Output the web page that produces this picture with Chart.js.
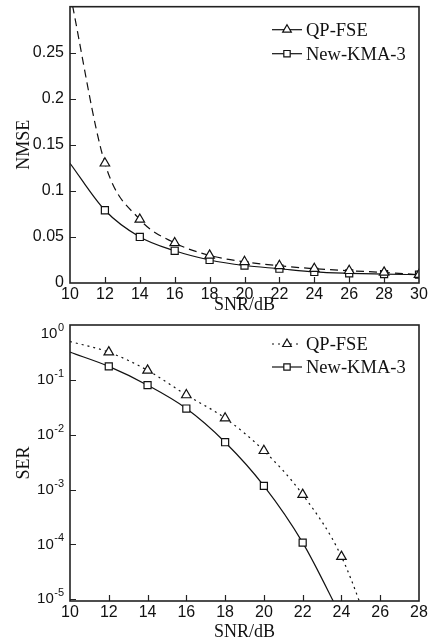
<!DOCTYPE html>
<html>
<head>
<meta charset="utf-8">
<script src="https://cdn.jsdelivr.net/npm/chart.js@4.4.0/dist/chart.umd.min.js"></script>
<style>
  html, body { margin: 0; padding: 0; background: #fff; }
  #wrap { position: relative; width: 434px; height: 641px; }
  #nmseChart { position: absolute; left: 0; top: 0; }
  #serChart { position: absolute; left: 0; top: 318px; }
</style>
</head>
<body>
<div id="wrap">
  <canvas id="nmseChart" width="434" height="318"></canvas>
  <canvas id="serChart" width="434" height="323"></canvas>
</div>
<script>
// NMSE vs SNR
const snrNmse = [10, 12, 14, 16, 18, 20, 22, 24, 26, 28, 30];
const nmseQpFse = [0.315, 0.130, 0.069, 0.0435, 0.030, 0.023, 0.0187, 0.0155, 0.0133, 0.0115, 0.009];
const nmseKma3 = [0.130, 0.079, 0.050, 0.035, 0.025, 0.019, 0.0155, 0.012, 0.0105, 0.0097, 0.009];

// SER vs SNR (last points fall below the axis and get clipped)
const snrSer = [10, 12, 14, 16, 18, 20, 22, 24, 26];
const serQpFse = [0.50, 0.32, 0.149, 0.053, 0.020, 0.0051, 0.00081, 6.0e-5, 8e-7];
const serKma3 = [0.32, 0.176, 0.080, 0.030, 0.0073, 0.00117, 1.08e-4, 4.7e-6, null];

const serDecades = [0, -1, -2, -3, -4, -5];
const seriesNames = ['QP-FSE', 'New-KMA-3'];

const serif = "'Liberation Serif', 'Times New Roman', serif";
const sans = "'Liberation Sans', Arial, sans-serif";
const ink = '#111';

Chart.defaults.font.family = sans;
Chart.defaults.color = ink;

function toPoints(xs, ys) {
  return xs.map((x, i) => ({ x: x, y: ys[i] }));
}

// no marker on the first point (and on points that run off the plot)
function radii(ys, r, hideFrom) {
  return ys.map((v, i) => (i === 0 || (hideFrom != null && i >= hideFrom)) ? 0 : r);
}

function makeDataset(label, xs, ys, style, dash, hideFrom) {
  const r = style === 'triangle' ? 5.5 : 5;
  return {
    label: label,
    data: toPoints(xs, ys),
    borderColor: ink,
    borderWidth: 1.2,
    borderDash: dash,
    pointStyle: style,
    pointRadius: radii(ys, r, hideFrom),
    pointBackgroundColor: '#fff',
    pointBorderColor: ink,
    pointBorderWidth: 1.2,
    cubicInterpolationMode: 'monotone',
    fill: false
  };
}

// Box round the plot area and short ticks pointing into it
const frameTicks = {
  id: 'frameTicks',
  afterDatasetsDraw(chart) {
    const { ctx, chartArea: a, scales } = chart;
    const xs = scales.x, ys = scales.y;
    ctx.save();
    ctx.strokeStyle = '#222';
    ctx.lineWidth = 1.2;
    ctx.beginPath();
    xs.ticks.forEach(t => {
      const px = Math.round(xs.getPixelForValue(t.value)) + 0.5;
      if (px <= a.left + 1 || px >= a.right - 1) return;
      ctx.moveTo(px, a.bottom);
      ctx.lineTo(px, a.bottom - 6);
    });
    ys.ticks.forEach(t => {
      const py = Math.round(ys.getPixelForValue(t.value)) + 0.5;
      if (py <= a.top + 1 || py >= a.bottom - 1) return;
      ctx.moveTo(a.left, py);
      ctx.lineTo(a.left + 6, py);
    });
    ctx.stroke();
    ctx.lineWidth = 1.6;
    ctx.strokeRect(a.left, a.top, a.right - a.left, a.bottom - a.top);
    ctx.restore();
  }
};

// Legend with a short line sample and the marker on it
const lineLegend = {
  id: 'lineLegend',
  afterDraw(chart, args, opts) {
    const { ctx, chartArea: a } = chart;
    ctx.save();
    chart.data.datasets.forEach((ds, i) => {
      const y = a.top + opts.top + i * opts.rowGap;
      const x0 = a.right - 147, x1 = a.right - 117;
      ctx.strokeStyle = ink;
      ctx.lineWidth = 1.2;
      ctx.setLineDash(opts.sampleDash[i]);
      ctx.beginPath();
      ctx.moveTo(x0, y);
      ctx.lineTo(x1, y);
      ctx.stroke();
      ctx.setLineDash([]);
      ctx.fillStyle = '#fff';
      ctx.strokeStyle = ink;
      Chart.helpers.drawPoint(ctx, {
        pointStyle: ds.pointStyle,
        radius: ds.pointStyle === 'triangle' ? 5 : 4.5,
        borderWidth: 1.2,
        rotation: 0
      }, (x0 + x1) / 2, y);
      ctx.fillStyle = ink;
      ctx.font = '18.5px ' + serif;
      ctx.textAlign = 'left';
      ctx.textBaseline = 'middle';
      ctx.fillText(ds.label, x1 + 4, y + 1);
    });
    ctx.restore();
  }
};

// Powers of ten for the log axis, exponent raised and smaller
const decadeLabels = {
  id: 'decadeLabels',
  afterDraw(chart) {
    const { ctx, chartArea: a, scales } = chart;
    const ys = scales.y;
    ctx.save();
    ctx.fillStyle = ink;
    ctx.textBaseline = 'middle';
    ctx.textAlign = 'left';
    serDecades.forEach(p => {
      let y = ys.getPixelForValue(Math.pow(10, p));
      y = Math.max(y, a.top + 9);
      const exp = String(p);
      ctx.font = '11px ' + sans;
      const ew = ctx.measureText(exp).width;
      ctx.font = '15px ' + sans;
      const bw = ctx.measureText('10').width;
      const right = a.left - 6;
      ctx.fillText('10', right - ew - bw - 0.5, y);
      ctx.font = '11px ' + sans;
      ctx.fillText(exp, right - ew, y - 6);
    });
    ctx.restore();
  }
};

const tickFont = { family: sans, size: 16 };
const titleFont = { family: serif, size: 18, lineHeight: 1 };

function xAxis(max, titlePad, height) {
  return {
    type: 'linear',
    min: 10,
    max: max,
    grid: { display: false, drawTicks: false },
    border: { display: false },
    ticks: { stepSize: 2, padding: 2, font: tickFont, color: ink, maxRotation: 0 },
    title: { display: true, text: 'SNR/dB', font: titleFont, color: ink, padding: { top: 0, bottom: titlePad } },
    afterFit(scale) { scale.height = height; }
  };
}

new Chart(document.getElementById('nmseChart'), {
  type: 'line',
  data: {
    datasets: [
      makeDataset(seriesNames[0], snrNmse, nmseQpFse, 'triangle', [8, 5]),
      makeDataset(seriesNames[1], snrNmse, nmseKma3, 'rect', [])
    ]
  },
  options: {
    responsive: false,
    devicePixelRatio: 1,
    animation: false,
    layout: { padding: { left: 0, right: 15, top: 5, bottom: 0 } },
    plugins: {
      legend: { display: false },
      tooltip: { enabled: false },
      lineLegend: { top: 23, rowGap: 24, sampleDash: [[], []] }
    },
    scales: {
      x: xAxis(30, 4, 35),
      y: {
        type: 'linear',
        min: 0,
        max: 0.3,
        grid: { display: false, drawTicks: false },
        border: { display: false },
        ticks: {
          stepSize: 0.05,
          padding: 6,
          font: tickFont,
          color: ink,
          callback: v => (v >= 0.3 ? '' : String(+v.toFixed(2)))
        },
        title: { display: true, text: 'NMSE', font: titleFont, color: ink, padding: { top: 15, bottom: 0 } },
        afterFit(scale) {
          scale.width = 70;
          // the top label is blank, so no room needs to be kept for it
          scale.paddingTop = 0;
          scale.paddingBottom = 0;
        }
      }
    }
  },
  plugins: [frameTicks, lineLegend]
});

new Chart(document.getElementById('serChart'), {
  type: 'line',
  data: {
    datasets: [
      makeDataset(seriesNames[0], snrSer, serQpFse, 'triangle', [2, 4], 8),
      makeDataset(seriesNames[1], snrSer, serKma3, 'rect', [], 7)
    ]
  },
  options: {
    responsive: false,
    devicePixelRatio: 1,
    animation: false,
    layout: { padding: { left: 0, right: 15, top: 7, bottom: 0 } },
    plugins: {
      legend: { display: false },
      tooltip: { enabled: false },
      lineLegend: { top: 19, rowGap: 23, sampleDash: [[2, 4], []] }
    },
    scales: {
      x: xAxis(28, 0, 40),
      y: {
        type: 'logarithmic',
        min: 9.3e-6,
        max: 1,
        grid: { display: false, drawTicks: false },
        border: { display: false },
        ticks: { display: false },
        afterBuildTicks(scale) {
          scale.ticks = serDecades.map(p => ({ value: Math.pow(10, p) }));
        },
        title: { display: true, text: 'SER', font: titleFont, color: ink, padding: { top: 15, bottom: 0 } },
        afterFit(scale) { scale.width = 70; }
      }
    }
  },
  plugins: [frameTicks, lineLegend, decadeLabels]
});
</script>
</body>
</html>
